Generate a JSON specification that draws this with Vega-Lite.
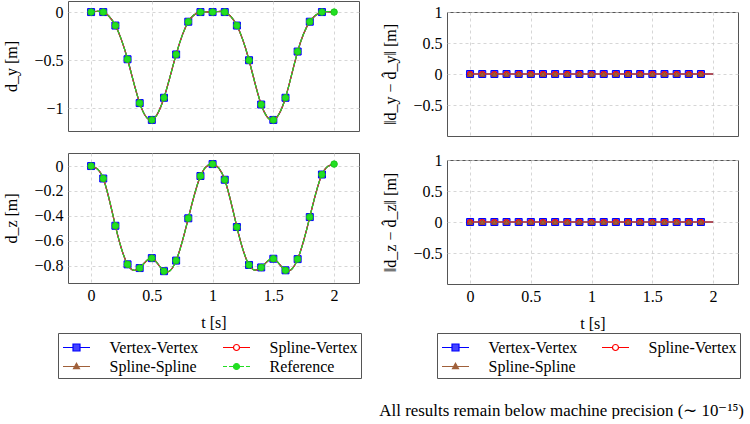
{
  "$schema": "https://vega.github.io/schema/vega-lite/v6.json",
  "background": "white",
  "padding": {"left": 3, "top": 0, "right": 0, "bottom": 0},
  "config": {
    "font": "Liberation Serif",
    "view": {"stroke": "#555555", "strokeWidth": 1},
    "axis": {
      "labelFont": "Liberation Serif", "labelFontSize": 16, "labelColor": "#000000",
      "titleFont": "Liberation Serif", "titleFontSize": 16, "titleFontWeight": "normal", "titleColor": "#000000",
      "grid": true, "gridColor": "#cccccc", "gridDash": [3, 3], "gridWidth": 0.8,
      "domain": false, "ticks": false, "format": "~g"
    },
    "axisX": {"labelPadding": 4, "titlePadding": 11},
    "axisY": {"labelPadding": 5, "titlePadding": 14},
    "legend": {
      "labelFont": "Liberation Serif", "labelFontSize": 16, "labelColor": "#000000",
      "strokeColor": "#555555", "padding": 3.5, "symbolSize": 400, "symbolStrokeWidth": 1.2,
      "symbolOffset": 4, "labelOffset": 22, "columnPadding": 22, "rowPadding": 0, "columns": 2,
      "direction": "horizontal", "gridAlign": "all", "labelLimit": 300
    }
  },
  "title": {
    "text": "All results remain below machine precision (∼ 10⁻¹⁵)",
    "orient": "bottom", "anchor": "end", "offset": 24, "dx": 3,
    "font": "Liberation Serif", "fontSize": 16.9, "fontWeight": "normal", "color": "#000000"
  },
  "datasets": {
    "disp": [
      {"series": "Vertex-Vertex", "t": 0.0, "dy": 0, "dz": 0},
      {"series": "Vertex-Vertex", "t": 0.1, "dy": 0, "dz": -0.1},
      {"series": "Vertex-Vertex", "t": 0.2, "dy": -0.14, "dz": -0.48},
      {"series": "Vertex-Vertex", "t": 0.3, "dy": -0.49, "dz": -0.79},
      {"series": "Vertex-Vertex", "t": 0.4, "dy": -0.945, "dz": -0.82},
      {"series": "Vertex-Vertex", "t": 0.5, "dy": -1.12, "dz": -0.74},
      {"series": "Vertex-Vertex", "t": 0.6, "dy": -0.89, "dz": -0.845},
      {"series": "Vertex-Vertex", "t": 0.7, "dy": -0.44, "dz": -0.76},
      {"series": "Vertex-Vertex", "t": 0.8, "dy": -0.1, "dz": -0.42},
      {"series": "Vertex-Vertex", "t": 0.9, "dy": 0, "dz": -0.08},
      {"series": "Vertex-Vertex", "t": 1.0, "dy": 0, "dz": 0.016},
      {"series": "Vertex-Vertex", "t": 1.1, "dy": 0, "dz": -0.11},
      {"series": "Vertex-Vertex", "t": 1.2, "dy": -0.14, "dz": -0.49},
      {"series": "Vertex-Vertex", "t": 1.3, "dy": -0.5, "dz": -0.795},
      {"series": "Vertex-Vertex", "t": 1.4, "dy": -0.96, "dz": -0.815},
      {"series": "Vertex-Vertex", "t": 1.5, "dy": -1.12, "dz": -0.745},
      {"series": "Vertex-Vertex", "t": 1.6, "dy": -0.89, "dz": -0.838},
      {"series": "Vertex-Vertex", "t": 1.7, "dy": -0.41, "dz": -0.748},
      {"series": "Vertex-Vertex", "t": 1.8, "dy": -0.1, "dz": -0.41},
      {"series": "Vertex-Vertex", "t": 1.9, "dy": 0, "dz": -0.068},
      {"series": "Vertex-Vertex", "t": 2.0, "dy": 0, "dz": 0.016},
      {"series": "Spline-Vertex", "t": 0.0, "dy": 0, "dz": 0},
      {"series": "Spline-Vertex", "t": 0.1, "dy": 0, "dz": -0.1},
      {"series": "Spline-Vertex", "t": 0.2, "dy": -0.14, "dz": -0.48},
      {"series": "Spline-Vertex", "t": 0.3, "dy": -0.49, "dz": -0.79},
      {"series": "Spline-Vertex", "t": 0.4, "dy": -0.945, "dz": -0.82},
      {"series": "Spline-Vertex", "t": 0.5, "dy": -1.12, "dz": -0.74},
      {"series": "Spline-Vertex", "t": 0.6, "dy": -0.89, "dz": -0.845},
      {"series": "Spline-Vertex", "t": 0.7, "dy": -0.44, "dz": -0.76},
      {"series": "Spline-Vertex", "t": 0.8, "dy": -0.1, "dz": -0.42},
      {"series": "Spline-Vertex", "t": 0.9, "dy": 0, "dz": -0.08},
      {"series": "Spline-Vertex", "t": 1.0, "dy": 0, "dz": 0.016},
      {"series": "Spline-Vertex", "t": 1.1, "dy": 0, "dz": -0.11},
      {"series": "Spline-Vertex", "t": 1.2, "dy": -0.14, "dz": -0.49},
      {"series": "Spline-Vertex", "t": 1.3, "dy": -0.5, "dz": -0.795},
      {"series": "Spline-Vertex", "t": 1.4, "dy": -0.96, "dz": -0.815},
      {"series": "Spline-Vertex", "t": 1.5, "dy": -1.12, "dz": -0.745},
      {"series": "Spline-Vertex", "t": 1.6, "dy": -0.89, "dz": -0.838},
      {"series": "Spline-Vertex", "t": 1.7, "dy": -0.41, "dz": -0.748},
      {"series": "Spline-Vertex", "t": 1.8, "dy": -0.1, "dz": -0.41},
      {"series": "Spline-Vertex", "t": 1.9, "dy": 0, "dz": -0.068},
      {"series": "Spline-Vertex", "t": 2.0, "dy": 0, "dz": 0.016},
      {"series": "Spline-Spline", "t": 0.0, "dy": 0, "dz": 0},
      {"series": "Spline-Spline", "t": 0.1, "dy": 0, "dz": -0.1},
      {"series": "Spline-Spline", "t": 0.2, "dy": -0.14, "dz": -0.48},
      {"series": "Spline-Spline", "t": 0.3, "dy": -0.49, "dz": -0.79},
      {"series": "Spline-Spline", "t": 0.4, "dy": -0.945, "dz": -0.82},
      {"series": "Spline-Spline", "t": 0.5, "dy": -1.12, "dz": -0.74},
      {"series": "Spline-Spline", "t": 0.6, "dy": -0.89, "dz": -0.845},
      {"series": "Spline-Spline", "t": 0.7, "dy": -0.44, "dz": -0.76},
      {"series": "Spline-Spline", "t": 0.8, "dy": -0.1, "dz": -0.42},
      {"series": "Spline-Spline", "t": 0.9, "dy": 0, "dz": -0.08},
      {"series": "Spline-Spline", "t": 1.0, "dy": 0, "dz": 0.016},
      {"series": "Spline-Spline", "t": 1.1, "dy": 0, "dz": -0.11},
      {"series": "Spline-Spline", "t": 1.2, "dy": -0.14, "dz": -0.49},
      {"series": "Spline-Spline", "t": 1.3, "dy": -0.5, "dz": -0.795},
      {"series": "Spline-Spline", "t": 1.4, "dy": -0.96, "dz": -0.815},
      {"series": "Spline-Spline", "t": 1.5, "dy": -1.12, "dz": -0.745},
      {"series": "Spline-Spline", "t": 1.6, "dy": -0.89, "dz": -0.838},
      {"series": "Spline-Spline", "t": 1.7, "dy": -0.41, "dz": -0.748},
      {"series": "Spline-Spline", "t": 1.8, "dy": -0.1, "dz": -0.41},
      {"series": "Spline-Spline", "t": 1.9, "dy": 0, "dz": -0.068},
      {"series": "Spline-Spline", "t": 2.0, "dy": 0, "dz": 0.016},
      {"series": "Reference", "t": 0.0, "dy": 0, "dz": 0},
      {"series": "Reference", "t": 0.1, "dy": 0, "dz": -0.1},
      {"series": "Reference", "t": 0.2, "dy": -0.14, "dz": -0.48},
      {"series": "Reference", "t": 0.3, "dy": -0.49, "dz": -0.79},
      {"series": "Reference", "t": 0.4, "dy": -0.945, "dz": -0.82},
      {"series": "Reference", "t": 0.5, "dy": -1.12, "dz": -0.74},
      {"series": "Reference", "t": 0.6, "dy": -0.89, "dz": -0.845},
      {"series": "Reference", "t": 0.7, "dy": -0.44, "dz": -0.76},
      {"series": "Reference", "t": 0.8, "dy": -0.1, "dz": -0.42},
      {"series": "Reference", "t": 0.9, "dy": 0, "dz": -0.08},
      {"series": "Reference", "t": 1.0, "dy": 0, "dz": 0.016},
      {"series": "Reference", "t": 1.1, "dy": 0, "dz": -0.11},
      {"series": "Reference", "t": 1.2, "dy": -0.14, "dz": -0.49},
      {"series": "Reference", "t": 1.3, "dy": -0.5, "dz": -0.795},
      {"series": "Reference", "t": 1.4, "dy": -0.96, "dz": -0.815},
      {"series": "Reference", "t": 1.5, "dy": -1.12, "dz": -0.745},
      {"series": "Reference", "t": 1.6, "dy": -0.89, "dz": -0.838},
      {"series": "Reference", "t": 1.7, "dy": -0.41, "dz": -0.748},
      {"series": "Reference", "t": 1.8, "dy": -0.1, "dz": -0.41},
      {"series": "Reference", "t": 1.9, "dy": 0, "dz": -0.068},
      {"series": "Reference", "t": 2.0, "dy": 0, "dz": 0.016}
    ],
    "err": [
      {"series": "Vertex-Vertex", "t": 0.0, "ey": 0, "ez": 0},
      {"series": "Vertex-Vertex", "t": 0.1, "ey": 0, "ez": 0},
      {"series": "Vertex-Vertex", "t": 0.2, "ey": 0, "ez": 0},
      {"series": "Vertex-Vertex", "t": 0.3, "ey": 0, "ez": 0},
      {"series": "Vertex-Vertex", "t": 0.4, "ey": 0, "ez": 0},
      {"series": "Vertex-Vertex", "t": 0.5, "ey": 0, "ez": 0},
      {"series": "Vertex-Vertex", "t": 0.6, "ey": 0, "ez": 0},
      {"series": "Vertex-Vertex", "t": 0.7, "ey": 0, "ez": 0},
      {"series": "Vertex-Vertex", "t": 0.8, "ey": 0, "ez": 0},
      {"series": "Vertex-Vertex", "t": 0.9, "ey": 0, "ez": 0},
      {"series": "Vertex-Vertex", "t": 1.0, "ey": 0, "ez": 0},
      {"series": "Vertex-Vertex", "t": 1.1, "ey": 0, "ez": 0},
      {"series": "Vertex-Vertex", "t": 1.2, "ey": 0, "ez": 0},
      {"series": "Vertex-Vertex", "t": 1.3, "ey": 0, "ez": 0},
      {"series": "Vertex-Vertex", "t": 1.4, "ey": 0, "ez": 0},
      {"series": "Vertex-Vertex", "t": 1.5, "ey": 0, "ez": 0},
      {"series": "Vertex-Vertex", "t": 1.6, "ey": 0, "ez": 0},
      {"series": "Vertex-Vertex", "t": 1.7, "ey": 0, "ez": 0},
      {"series": "Vertex-Vertex", "t": 1.8, "ey": 0, "ez": 0},
      {"series": "Vertex-Vertex", "t": 1.9, "ey": 0, "ez": 0},
      {"series": "Vertex-Vertex", "t": 2.0, "ey": 0, "ez": 0},
      {"series": "Spline-Vertex", "t": 0.0, "ey": 0, "ez": 0},
      {"series": "Spline-Vertex", "t": 0.1, "ey": 0, "ez": 0},
      {"series": "Spline-Vertex", "t": 0.2, "ey": 0, "ez": 0},
      {"series": "Spline-Vertex", "t": 0.3, "ey": 0, "ez": 0},
      {"series": "Spline-Vertex", "t": 0.4, "ey": 0, "ez": 0},
      {"series": "Spline-Vertex", "t": 0.5, "ey": 0, "ez": 0},
      {"series": "Spline-Vertex", "t": 0.6, "ey": 0, "ez": 0},
      {"series": "Spline-Vertex", "t": 0.7, "ey": 0, "ez": 0},
      {"series": "Spline-Vertex", "t": 0.8, "ey": 0, "ez": 0},
      {"series": "Spline-Vertex", "t": 0.9, "ey": 0, "ez": 0},
      {"series": "Spline-Vertex", "t": 1.0, "ey": 0, "ez": 0},
      {"series": "Spline-Vertex", "t": 1.1, "ey": 0, "ez": 0},
      {"series": "Spline-Vertex", "t": 1.2, "ey": 0, "ez": 0},
      {"series": "Spline-Vertex", "t": 1.3, "ey": 0, "ez": 0},
      {"series": "Spline-Vertex", "t": 1.4, "ey": 0, "ez": 0},
      {"series": "Spline-Vertex", "t": 1.5, "ey": 0, "ez": 0},
      {"series": "Spline-Vertex", "t": 1.6, "ey": 0, "ez": 0},
      {"series": "Spline-Vertex", "t": 1.7, "ey": 0, "ez": 0},
      {"series": "Spline-Vertex", "t": 1.8, "ey": 0, "ez": 0},
      {"series": "Spline-Vertex", "t": 1.9, "ey": 0, "ez": 0},
      {"series": "Spline-Vertex", "t": 2.0, "ey": 0, "ez": 0},
      {"series": "Spline-Spline", "t": 0.0, "ey": 0, "ez": 0},
      {"series": "Spline-Spline", "t": 0.1, "ey": 0, "ez": 0},
      {"series": "Spline-Spline", "t": 0.2, "ey": 0, "ez": 0},
      {"series": "Spline-Spline", "t": 0.3, "ey": 0, "ez": 0},
      {"series": "Spline-Spline", "t": 0.4, "ey": 0, "ez": 0},
      {"series": "Spline-Spline", "t": 0.5, "ey": 0, "ez": 0},
      {"series": "Spline-Spline", "t": 0.6, "ey": 0, "ez": 0},
      {"series": "Spline-Spline", "t": 0.7, "ey": 0, "ez": 0},
      {"series": "Spline-Spline", "t": 0.8, "ey": 0, "ez": 0},
      {"series": "Spline-Spline", "t": 0.9, "ey": 0, "ez": 0},
      {"series": "Spline-Spline", "t": 1.0, "ey": 0, "ez": 0},
      {"series": "Spline-Spline", "t": 1.1, "ey": 0, "ez": 0},
      {"series": "Spline-Spline", "t": 1.2, "ey": 0, "ez": 0},
      {"series": "Spline-Spline", "t": 1.3, "ey": 0, "ez": 0},
      {"series": "Spline-Spline", "t": 1.4, "ey": 0, "ez": 0},
      {"series": "Spline-Spline", "t": 1.5, "ey": 0, "ez": 0},
      {"series": "Spline-Spline", "t": 1.6, "ey": 0, "ez": 0},
      {"series": "Spline-Spline", "t": 1.7, "ey": 0, "ez": 0},
      {"series": "Spline-Spline", "t": 1.8, "ey": 0, "ez": 0},
      {"series": "Spline-Spline", "t": 1.9, "ey": 0, "ez": 0},
      {"series": "Spline-Spline", "t": 2.0, "ey": 0, "ez": 0}
    ]
  },
  "resolve": {
    "scale": {"x": "independent", "y": "independent", "stroke": "independent", "fill": "independent", "shape": "independent"},
    "legend": {"stroke": "independent", "fill": "independent", "shape": "independent"}
  },
  "spacing": 20,
  "hconcat": [
    {
      "spacing": 20,
      "resolve": {
        "scale": {"x": "independent", "y": "independent", "stroke": "independent", "fill": "independent", "shape": "independent"},
        "legend": {"stroke": "independent", "fill": "independent", "shape": "independent"}
      },
      "vconcat": [
        {
          "width": 291, "height": 130,
          "data": {"name": "disp"},
          "encoding": {
            "x": {"field": "t", "type": "quantitative", "scale": {"domain": [-0.19, 2.205], "nice": false, "zero": false},
              "axis": {"values": [0, 0.5, 1, 1.5, 2], "labels": false, "title": null}},
            "y": {"field": "dy", "type": "quantitative", "scale": {"domain": [-1.235, 0.115], "nice": false, "zero": false},
              "axis": {"values": [-1, -0.5, 0], "title": "d_y [m]", "labelFont": "Liberation Serif", "titleFont": "Liberation Serif", "labelFontSize": 16, "titleFontSize": 16}}
          },
          "layer": [
            {"transform": [{"filter": "datum.series === 'Vertex-Vertex'"}], "mark": {"type": "line", "interpolate": "natural", "color": "#0000ff", "strokeWidth": 1.2}},
            {"transform": [{"filter": "datum.series === 'Vertex-Vertex' && datum.t < 1.95"}], "mark": {"type": "point", "shape": "square", "size": 49, "filled": true, "fill": "#4444ff", "stroke": "#0000ff", "strokeWidth": 1, "opacity": 1}},
            {"transform": [{"filter": "datum.series === 'Spline-Vertex'"}], "mark": {"type": "line", "interpolate": "natural", "color": "#ff0000", "strokeWidth": 1.2}},
            {"transform": [{"filter": "datum.series === 'Spline-Vertex' && datum.t < 1.95"}], "mark": {"type": "point", "shape": "circle", "size": 28, "filled": true, "fill": "#ff3030", "stroke": "#ff0000", "strokeWidth": 1, "opacity": 1}},
            {"transform": [{"filter": "datum.series === 'Spline-Spline'"}], "mark": {"type": "line", "interpolate": "natural", "color": "#a0603a", "strokeWidth": 1.2}},
            {"transform": [{"filter": "datum.series === 'Spline-Spline' && datum.t < 1.95"}], "mark": {"type": "point", "shape": "triangle-up", "size": 28, "filled": true, "fill": "#a0603a", "stroke": "#8a5030", "strokeWidth": 1, "opacity": 1}},
            {"transform": [{"filter": "datum.series === 'Reference'"}], "mark": {"type": "line", "interpolate": "natural", "color": "#22dd22", "strokeWidth": 1.2, "strokeDash": [4, 2]}},
            {"transform": [{"filter": "datum.series === 'Reference'"}], "mark": {"type": "point", "shape": "circle", "size": 42, "filled": true, "fill": "#22e022", "stroke": "#18c818", "strokeWidth": 1, "opacity": 1}}
          ]
        },
        {
          "width": 291, "height": 130,
          "data": {"name": "disp"},
          "encoding": {
            "x": {"field": "t", "type": "quantitative", "scale": {"domain": [-0.19, 2.205], "nice": false, "zero": false},
              "axis": {"values": [0, 0.5, 1, 1.5, 2], "title": "t [s]", "labelFont": "Liberation Serif", "titleFont": "Liberation Serif", "labelFontSize": 16, "titleFontSize": 16}},
            "y": {"field": "dz", "type": "quantitative", "scale": {"domain": [-0.94, 0.105], "nice": false, "zero": false},
              "axis": {"values": [-0.8, -0.6, -0.4, -0.2, 0], "title": "d_z [m]", "labelFont": "Liberation Serif", "titleFont": "Liberation Serif", "labelFontSize": 16, "titleFontSize": 16}}
          },
          "layer": [
            {"transform": [{"filter": "datum.series === 'Vertex-Vertex'"}], "mark": {"type": "line", "interpolate": "natural", "color": "#0000ff", "strokeWidth": 1.2}},
            {"transform": [{"filter": "datum.series === 'Vertex-Vertex' && datum.t < 1.95"}], "mark": {"type": "point", "shape": "square", "size": 49, "filled": true, "fill": "#4444ff", "stroke": "#0000ff", "strokeWidth": 1, "opacity": 1}},
            {"transform": [{"filter": "datum.series === 'Spline-Vertex'"}], "mark": {"type": "line", "interpolate": "natural", "color": "#ff0000", "strokeWidth": 1.2}},
            {"transform": [{"filter": "datum.series === 'Spline-Vertex' && datum.t < 1.95"}], "mark": {"type": "point", "shape": "circle", "size": 28, "filled": true, "fill": "#ff3030", "stroke": "#ff0000", "strokeWidth": 1, "opacity": 1}},
            {"transform": [{"filter": "datum.series === 'Spline-Spline'"}], "mark": {"type": "line", "interpolate": "natural", "color": "#a0603a", "strokeWidth": 1.2}},
            {"transform": [{"filter": "datum.series === 'Spline-Spline' && datum.t < 1.95"}], "mark": {"type": "point", "shape": "triangle-up", "size": 28, "filled": true, "fill": "#a0603a", "stroke": "#8a5030", "strokeWidth": 1, "opacity": 1}},
            {"transform": [{"filter": "datum.series === 'Reference'"}], "mark": {"type": "line", "interpolate": "natural", "color": "#22dd22", "strokeWidth": 1.2, "strokeDash": [4, 2]}},
            {"transform": [{"filter": "datum.series === 'Reference'"}], "mark": {"type": "point", "shape": "circle", "size": 42, "filled": true, "fill": "#22e022", "stroke": "#18c818", "strokeWidth": 1, "opacity": 1}},
            {
              "data": {"values": []},
              "mark": {"type": "point", "filled": true, "opacity": 1},
              "encoding": {
                "stroke": {"field": "series", "type": "nominal",
                  "scale": {"domain": ["Vertex-Vertex", "Spline-Vertex", "Spline-Spline", "Reference"], "range": ["#0000ff", "#ff0000", "#a0603a", "#22dd22"]},
                  "legend": {"title": null, "orient": "none", "legendX": -10, "legendY": 180, "labelFont": "Liberation Serif", "labelFontSize": 16}},
                "fill": {"field": "series", "type": "nominal",
                  "scale": {"domain": ["Vertex-Vertex", "Spline-Vertex", "Spline-Spline", "Reference"], "range": ["#4444ff", "#ffffff", "#a0603a", "#22e022"]},
                  "legend": {"title": null, "orient": "none", "legendX": -10, "legendY": 180, "labelFont": "Liberation Serif", "labelFontSize": 16}},
                "shape": {"field": "series", "type": "nominal",
                  "scale": {"domain": ["Vertex-Vertex", "Spline-Vertex", "Spline-Spline", "Reference"], "range": [
                    "M-1.35,0H-0.35M0.35,0H1.35M-0.35,-0.35H0.35V0.35H-0.35Z",
                    "M-1.35,0H-0.3M0.3,0H1.35M-0.3,0A0.3,0.3 0 1,0 0.3,0A0.3,0.3 0 1,0 -0.3,0Z",
                    "M-1.35,0H1.35M0,-0.33L0.3,0.22H-0.3Z",
                    "M-1.35,0H-0.95M-0.75,0H-0.32M0.32,0H0.75M0.95,0H1.35M-0.3,0A0.3,0.3 0 1,0 0.3,0A0.3,0.3 0 1,0 -0.3,0Z"
                  ]},
                  "legend": {"title": null, "orient": "none", "legendX": -10, "legendY": 180, "labelFont": "Liberation Serif", "labelFontSize": 16}}
              }
            }
          ]
        }
      ]
    },
    {
      "spacing": 1,
      "resolve": {
        "scale": {"x": "independent", "y": "independent", "stroke": "independent", "fill": "independent", "shape": "independent"},
        "legend": {"stroke": "independent", "fill": "independent", "shape": "independent"}
      },
      "vconcat": [
        {
          "width": 291, "height": 1,
          "view": {"stroke": null},
          "data": {"values": []},
          "mark": {"type": "point"},
          "encoding": {}
        },
        {
          "spacing": 14,
          "resolve": {
            "scale": {"x": "independent", "y": "independent", "stroke": "independent", "fill": "independent", "shape": "independent"},
            "legend": {"stroke": "independent", "fill": "independent", "shape": "independent"}
          },
          "vconcat": [
            {
              "width": 291, "height": 124,
              "data": {"name": "err"},
              "encoding": {
                "x": {"field": "t", "type": "quantitative", "scale": {"domain": [-0.19, 2.205], "nice": false, "zero": false},
                  "axis": {"values": [0, 0.5, 1, 1.5, 2], "labels": false, "title": null}},
                "y": {"field": "ey", "type": "quantitative", "scale": {"domain": [-1, 1], "nice": false, "zero": false},
                  "axis": {"values": [-0.5, 0, 0.5, 1], "title": "‖d_y − d̂_y‖ [m]", "labelFont": "Liberation Serif", "titleFont": "Liberation Serif", "labelFontSize": 16, "titleFontSize": 16}}
              },
              "layer": [
                {"transform": [{"filter": "datum.series === 'Vertex-Vertex'"}], "mark": {"type": "line", "interpolate": "natural", "color": "#0000ff", "strokeWidth": 1.2}},
                {"transform": [{"filter": "datum.series === 'Vertex-Vertex' && datum.t < 1.95"}], "mark": {"type": "point", "shape": "square", "size": 49, "filled": true, "fill": "#4444ff", "stroke": "#0000ff", "strokeWidth": 1, "opacity": 1}},
                {"transform": [{"filter": "datum.series === 'Spline-Vertex'"}], "mark": {"type": "line", "interpolate": "natural", "color": "#ff0000", "strokeWidth": 1.2}},
                {"transform": [{"filter": "datum.series === 'Spline-Vertex' && datum.t < 1.95"}], "mark": {"type": "point", "shape": "circle", "size": 28, "filled": true, "fill": "#ff3030", "stroke": "#ff0000", "strokeWidth": 1, "opacity": 1}},
                {"transform": [{"filter": "datum.series === 'Spline-Spline'"}], "mark": {"type": "line", "interpolate": "natural", "color": "#a0603a", "strokeWidth": 1.2}},
                {"transform": [{"filter": "datum.series === 'Spline-Spline' && datum.t < 1.95"}], "mark": {"type": "point", "shape": "triangle-up", "size": 28, "filled": true, "fill": "#a0603a", "stroke": "#8a5030", "strokeWidth": 1, "opacity": 1}}
              ]
            },
            {
              "width": 291, "height": 124,
              "data": {"name": "err"},
              "encoding": {
                "x": {"field": "t", "type": "quantitative", "scale": {"domain": [-0.19, 2.205], "nice": false, "zero": false},
                  "axis": {"values": [0, 0.5, 1, 1.5, 2], "title": "t [s]", "labelFont": "Liberation Serif", "titleFont": "Liberation Serif", "labelFontSize": 16, "titleFontSize": 16}},
                "y": {"field": "ez", "type": "quantitative", "scale": {"domain": [-1, 1], "nice": false, "zero": false},
                  "axis": {"values": [-0.5, 0, 0.5, 1], "title": "‖d_z − d̂_z‖ [m]", "labelFont": "Liberation Serif", "titleFont": "Liberation Serif", "labelFontSize": 16, "titleFontSize": 16}}
              },
              "layer": [
                {"transform": [{"filter": "datum.series === 'Vertex-Vertex'"}], "mark": {"type": "line", "interpolate": "natural", "color": "#0000ff", "strokeWidth": 1.2}},
                {"transform": [{"filter": "datum.series === 'Vertex-Vertex' && datum.t < 1.95"}], "mark": {"type": "point", "shape": "square", "size": 49, "filled": true, "fill": "#4444ff", "stroke": "#0000ff", "strokeWidth": 1, "opacity": 1}},
                {"transform": [{"filter": "datum.series === 'Spline-Vertex'"}], "mark": {"type": "line", "interpolate": "natural", "color": "#ff0000", "strokeWidth": 1.2}},
                {"transform": [{"filter": "datum.series === 'Spline-Vertex' && datum.t < 1.95"}], "mark": {"type": "point", "shape": "circle", "size": 28, "filled": true, "fill": "#ff3030", "stroke": "#ff0000", "strokeWidth": 1, "opacity": 1}},
                {"transform": [{"filter": "datum.series === 'Spline-Spline'"}], "mark": {"type": "line", "interpolate": "natural", "color": "#a0603a", "strokeWidth": 1.2}},
                {"transform": [{"filter": "datum.series === 'Spline-Spline' && datum.t < 1.95"}], "mark": {"type": "point", "shape": "triangle-up", "size": 28, "filled": true, "fill": "#a0603a", "stroke": "#8a5030", "strokeWidth": 1, "opacity": 1}},
                {
                  "data": {"values": []},
                  "mark": {"type": "point", "filled": true, "opacity": 1},
                  "encoding": {
                    "stroke": {"field": "series", "type": "nominal",
                      "scale": {"domain": ["Vertex-Vertex", "Spline-Vertex", "Spline-Spline"], "range": ["#0000ff", "#ff0000", "#a0603a"]},
                      "legend": {"title": null, "orient": "none", "legendX": -10, "legendY": 173, "labelFont": "Liberation Serif", "labelFontSize": 16}},
                    "fill": {"field": "series", "type": "nominal",
                      "scale": {"domain": ["Vertex-Vertex", "Spline-Vertex", "Spline-Spline"], "range": ["#4444ff", "#ffffff", "#a0603a"]},
                      "legend": {"title": null, "orient": "none", "legendX": -10, "legendY": 173, "labelFont": "Liberation Serif", "labelFontSize": 16}},
                    "shape": {"field": "series", "type": "nominal",
                      "scale": {"domain": ["Vertex-Vertex", "Spline-Vertex", "Spline-Spline"], "range": [
                        "M-1.35,0H-0.35M0.35,0H1.35M-0.35,-0.35H0.35V0.35H-0.35Z",
                        "M-1.35,0H-0.3M0.3,0H1.35M-0.3,0A0.3,0.3 0 1,0 0.3,0A0.3,0.3 0 1,0 -0.3,0Z",
                        "M-1.35,0H1.35M0,-0.33L0.3,0.22H-0.3Z"
                      ]},
                      "legend": {"title": null, "orient": "none", "legendX": -10, "legendY": 173, "labelFont": "Liberation Serif", "labelFontSize": 16}}
                  }
                }
              ]
            }
          ]
        }
      ]
    }
  ]
}
